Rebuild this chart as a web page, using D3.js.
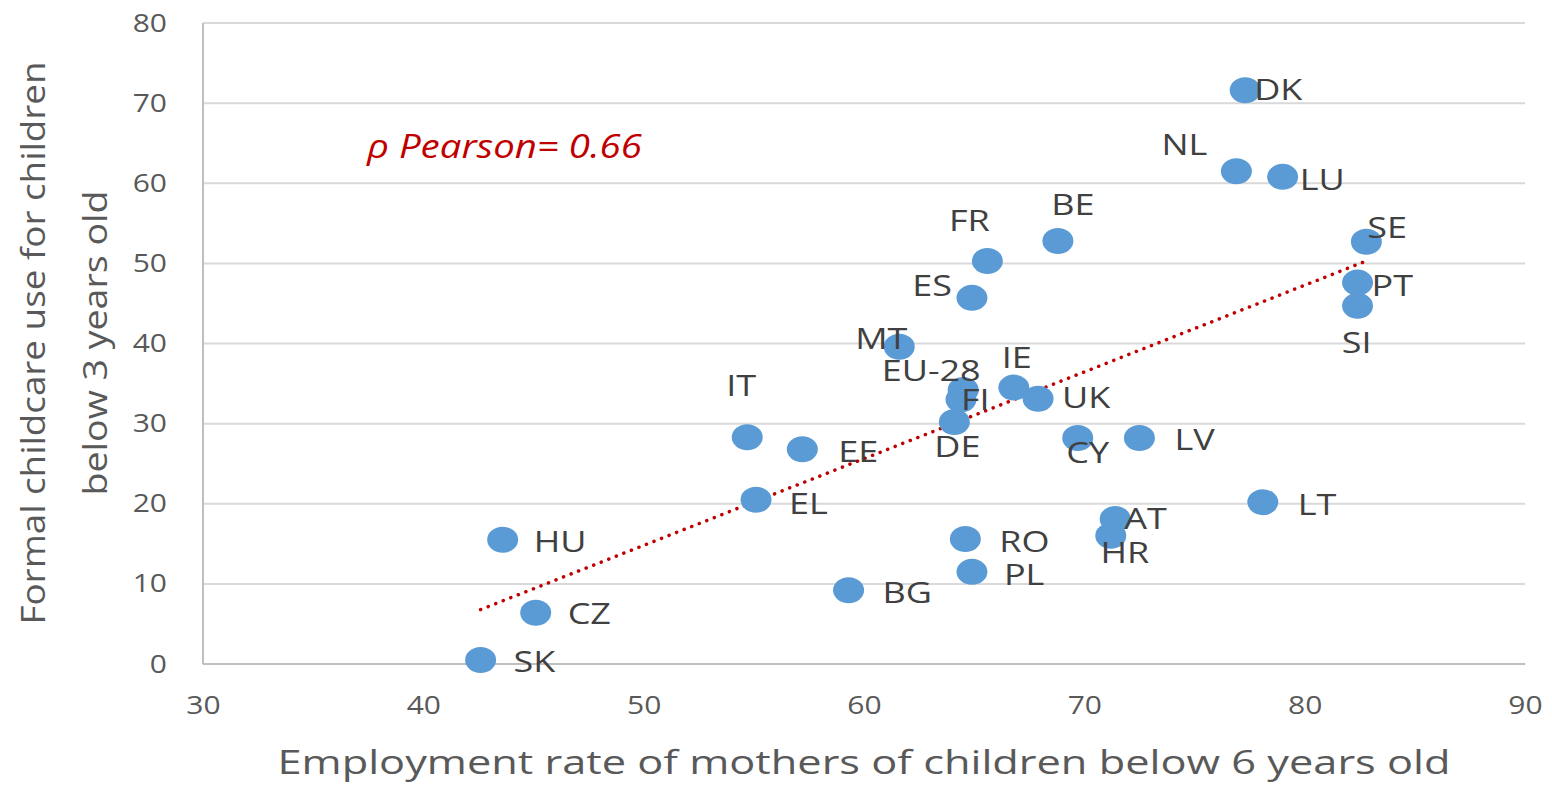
<!DOCTYPE html>
<html>
<head>
<meta charset="utf-8">
<script src="https://cdn.jsdelivr.net/npm/d3@7"></script>
<style>
  body { margin: 0; background: #fff; }
  text { font-family: "Open Sans", "Noto Sans", sans-serif; }
</style>
</head>
<body>
<div class="chart"></div>
<script>
(function (){

	// Country codes
	var countries = ["DK", "NL", "LU", "SE", "PT", "SI", "BE", "FR", "ES", "MT", "EU-28", "FI", "IE", "UK", "DE",
		"CY", "LV", "IT", "EE", "EL", "LT", "AT", "HR", "RO", "PL", "HU", "BG", "CZ", "SK"];

	// Employment rate of mothers of children below 6 (x)
	var employment = [77.3, 76.9, 79.0, 82.8, 82.4, 82.4, 68.8, 65.6, 64.9, 61.6, 64.5, 64.4, 66.8, 67.9, 64.1,
		69.7, 72.5, 54.7, 57.2, 55.1, 78.1, 71.4, 71.2, 64.6, 64.9, 43.6, 59.3, 45.1, 42.6];

	// Formal childcare use for children below 3 (y)
	var childcare = [71.6, 61.5, 60.8, 52.7, 47.6, 44.7, 52.8, 50.3, 45.7, 39.6, 34.2, 33.0, 34.5, 33.1, 30.2,
		28.2, 28.2, 28.3, 26.8, 20.5, 20.2, 18.1, 16.0, 15.6, 11.5, 15.5, 9.2, 6.4, 0.5];

	var xTicks = [30, 40, 50, 60, 70, 80, 90];
	var yTicks = [0, 10, 20, 30, 40, 50, 60, 70, 80];

	// Label placement relative to each dot: [dx, dy, anchor]
	var labelOffsets = {
		"DK": [9, -2, "start"], "NL": [-52, -28, "middle"], "LU": [17, 2, "start"],
		"SE": [1, -15, "start"], "PT": [14, 2, "start"], "SI": [-1, 36, "middle"],
		"BE": [15, -37, "middle"], "FR": [-18, -41, "middle"], "ES": [-20, -13, "end"],
		"MT": [-18, -9, "middle"], "EU-28": [-32, -20, "middle"], "FI": [0, -1, "start"],
		"IE": [3, -31, "middle"], "UK": [24, -2, "start"], "DE": [3, 24, "middle"],
		"CY": [10, 14, "middle"], "LV": [35, 1, "start"], "IT": [-6, -53, "middle"],
		"EE": [36, 1, "start"], "EL": [33, 3, "start"], "LT": [35, 2, "start"],
		"AT": [9, -1, "start"], "HR": [14, 16, "middle"], "RO": [34, 2, "start"],
		"PL": [32, 2, "start"], "HU": [31, 1, "start"], "BG": [34, 1, "start"],
		"CZ": [32, 0, "start"], "SK": [33, 1, "start"]
	};

	// the source picture is stretched sideways, so text gets a horizontal scale
	var stretch = 1.2;

	var data = countries.map(function(c, i){ return { name: c, x: employment[i], y: childcare[i] }; });

	var margin = { top: 23, right: 27, bottom: 121, left: 203 };
	var width = 1322, height = 641;

	var xScale = d3.scaleLinear().domain([30, 90]).range([0, width]);
	var yScale = d3.scaleLinear().domain([0, 80]).range([height, 0]);

	var svg = d3.select(".chart")
		.append("svg")
		.attr("width", 1552)
		.attr("height", 785);

	var g = svg.append("g")
		.attr("transform", "translate(" + margin.left + "," + margin.top + ")");

	// Gridlines
	g.append("g")
		.selectAll("line")
		.data(yTicks)
		.enter()
		.append("line")
		.attr("x1", 0)
		.attr("x2", width)
		.attr("y1", function(d){ return yScale(d); })
		.attr("y2", function(d){ return yScale(d); })
		.attr("stroke", function(d){ return d == 0 ? "#bfbfbf" : "#d9d9d9"; })
		.attr("stroke-width", 2);

	// Left axis line
	g.append("line")
		.attr("x1", 0).attr("x2", 0)
		.attr("y1", 0).attr("y2", height)
		.attr("stroke", "#bfbfbf")
		.attr("stroke-width", 2);

	// Y tick labels
	var yAxis = d3.axisLeft(yScale).tickValues(yTicks).tickSize(0).tickPadding(30);
	var yAxisG = g.append("g").call(yAxis);
	yAxisG.select(".domain").remove();
	yAxisG.selectAll("text")
		.attr("transform", "scale(" + stretch + ",1)")
		.style("font-family", "'Open Sans', sans-serif")
		.style("font-size", "25px")
		.attr("fill", "#595959");

	// X tick labels
	var xAxis = d3.axisBottom(xScale).tickValues(xTicks).tickSize(0).tickPadding(32);
	var xAxisG = g.append("g").attr("transform", "translate(0," + height + ")").call(xAxis);
	xAxisG.select(".domain").remove();
	xAxisG.selectAll("text")
		.attr("transform", "scale(" + stretch + ",1)")
		.style("font-family", "'Open Sans', sans-serif")
		.style("font-size", "25px")
		.attr("fill", "#595959");

	// Linear trendline (least squares)
	var mx = d3.mean(data, function(d){ return d.x; });
	var my = d3.mean(data, function(d){ return d.y; });
	var sxy = d3.sum(data, function(d){ return (d.x - mx) * (d.y - my); });
	var sxx = d3.sum(data, function(d){ return (d.x - mx) * (d.x - mx); });
	var slope = sxy / sxx, intercept = my - slope * mx;
	var xExt = d3.extent(data, function(d){ return d.x; });

	g.append("line")
		.attr("x1", xScale(xExt[0]))
		.attr("y1", yScale(intercept + slope * xExt[0]))
		.attr("x2", xScale(xExt[1]))
		.attr("y2", yScale(intercept + slope * xExt[1]))
		.attr("stroke", "#c00000")
		.attr("stroke-width", 3.5)
		.attr("stroke-linecap", "round")
		.attr("stroke-dasharray", "0.1 8");

	// Dots
	g.append("g")
		.selectAll("ellipse")
		.data(data)
		.enter()
		.append("ellipse")
		.attr("cx", function(d){ return xScale(d.x); })
		.attr("cy", function(d){ return yScale(d.y); })
		.attr("rx", 15.5)
		.attr("ry", 13)
		.attr("fill", "#5b9bd5");

	// Data labels
	g.append("g")
		.selectAll("text")
		.data(data)
		.enter()
		.append("text")
		.attr("transform", function(d){
			var o = labelOffsets[d.name];
			return "translate(" + (xScale(d.x) + o[0]) + "," + (yScale(d.y) + o[1]) + ") scale(" + stretch + ",1)";
		})
		.attr("text-anchor", function(d){ return labelOffsets[d.name][2]; })
		.attr("dominant-baseline", "central")
		.style("font-size", "30px")
		.attr("fill", "#404040")
		.text(function(d){ return d.name; });

	// Pearson annotation
	svg.append("text")
		.attr("transform", "translate(367,158) scale(" + stretch + ",1)")
		.style("font-size", "32px")
		.style("font-style", "italic")
		.attr("fill", "#c00000")
		.text("ρ Pearson= 0.66");

	// X axis title
	svg.append("text")
		.attr("x", 864)
		.attr("y", 774)
		.attr("text-anchor", "middle")
		.attr("textLength", 1173)
		.attr("lengthAdjust", "spacingAndGlyphs")
		.style("font-size", "33px")
		.attr("fill", "#595959")
		.text("Employment rate of mothers of children below 6 years old");

	// Y axis title
	var yTitle = svg.append("g")
		.attr("transform", "translate(0,343) rotate(-90)");
	yTitle.append("text")
		.attr("x", 0).attr("y", 45)
		.attr("text-anchor", "middle")
		.attr("textLength", 563)
		.attr("lengthAdjust", "spacingAndGlyphs")
		.style("font-size", "33px")
		.attr("fill", "#595959")
		.text("Formal childcare use for children");
	yTitle.append("text")
		.attr("x", 0).attr("y", 107)
		.attr("text-anchor", "middle")
		.attr("textLength", 305)
		.attr("lengthAdjust", "spacingAndGlyphs")
		.style("font-size", "33px")
		.attr("fill", "#595959")
		.text("below 3 years old");

})();
</script>
</body>
</html>
